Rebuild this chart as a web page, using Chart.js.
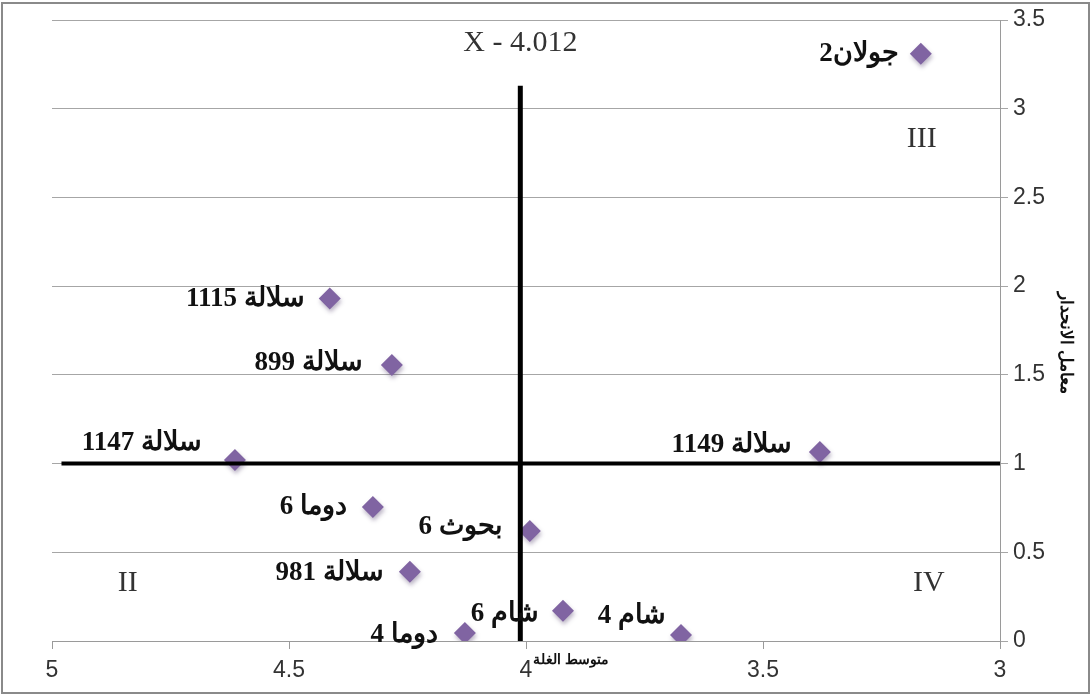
<!DOCTYPE html>
<html>
<head>
<meta charset="utf-8">
<script src="https://cdn.jsdelivr.net/npm/chart.js@4.4.0/dist/chart.umd.min.js"></script>
<style>
  body { margin: 0; background: #fff; }
  #wrap { width: 1091px; height: 695px; }
</style>
</head>
<body>
<div id="wrap"><canvas id="quadChart" width="1091" height="695"></canvas></div>
<script>
// genotypes: mean yield (x) and regression coefficient (y)
const names = ['جولان2', 'سلالة 1115', 'سلالة 899', 'سلالة 1147', 'سلالة 1149', 'دوما 6', 'بحوث 6', 'سلالة 981', 'شام 6', 'دوما 4', 'شام 4'];
const meanYield = [3.167, 4.414, 4.283, 4.614, 3.380, 4.323, 3.992, 4.245, 3.922, 4.129, 3.673];
const regCoef = [3.31, 1.93, 1.555, 1.02, 1.065, 0.755, 0.62, 0.39, 0.17, 0.045, 0.034];

// reference lines
const grandMean = 4.012;
const vLineY = [0, 3.13];
const hLineX = [4.98, 3.0];
const hLineY = 1;

const xTicks = [5, 4.5, 4, 3.5, 3];
const yTicks = [0, 0.5, 1, 1.5, 2, 2.5, 3, 3.5];

// label nudges (px) next to each diamond
const labelGap = [22, 25, 29, 33, 28, 26, 27, 26, 24, 27, 15];
const labelDy = [0, 0, -2, -17, -7, 0, -4, 1, 3, 2, -19];

const points = meanYield.map((x, i) => ({ x: x, y: regCoef[i] }));

const extras = {
    id: 'extras',
    beforeDatasetDraw(chart, args) {
        if (args.index === 2) {
            chart.ctx.save();
            chart.ctx.shadowColor = 'rgba(60,40,90,0.35)';
            chart.ctx.shadowBlur = 4;
            chart.ctx.shadowOffsetX = 1;
            chart.ctx.shadowOffsetY = 3;
        }
    },
    afterDatasetDraw(chart, args) {
        if (args.index === 2) chart.ctx.restore();
    },
    afterDraw(chart) {
        const ctx = chart.ctx;
        const xs = chart.scales.x, ys = chart.scales.y;
        const area = chart.chartArea;
        ctx.save();

        // point labels
        ctx.direction = 'rtl';
        ctx.textAlign = 'right';
        ctx.textBaseline = 'middle';
        ctx.fillStyle = '#111';
        ctx.font = 'bold 27px "Liberation Serif", "DejaVu Serif", serif';
        names.forEach((n, i) => {
            const px = xs.getPixelForValue(meanYield[i]);
            const py = ys.getPixelForValue(regCoef[i]);
            ctx.fillText(n, px - labelGap[i], py + labelDy[i]);
        });

        // quadrant numbers and mean text
        ctx.direction = 'ltr';
        ctx.textAlign = 'center';
        ctx.fillStyle = '#333';
        ctx.font = '30px "Liberation Serif", serif';
        ctx.fillText('III', xs.getPixelForValue(3.165), ys.getPixelForValue(2.83));
        ctx.fillText('II', xs.getPixelForValue(4.84), ys.getPixelForValue(0.325));
        ctx.fillText('IV', xs.getPixelForValue(3.15), ys.getPixelForValue(0.325));
        ctx.fillText('X - 4.012', xs.getPixelForValue(grandMean), ys.getPixelForValue(3.37));

        // axis titles
        ctx.fillStyle = '#111';
        ctx.font = 'bold 14px "Liberation Serif", serif';
        ctx.direction = 'rtl';
        ctx.fillText('متوسط الغلة', xs.getPixelForValue(3.905), area.bottom + 19);
        ctx.font = 'bold 17px "Liberation Serif", serif';
        ctx.save();
        ctx.translate(area.right + 65, ys.getPixelForValue(1.68));
        ctx.rotate(Math.PI / 2);
        ctx.fillText('معامل الانحدار', 0, 0);
        ctx.restore();

        // outer frame
        ctx.strokeStyle = '#8a8a8a';
        ctx.lineWidth = 2;
        ctx.strokeRect(2, 3, 1087, 690);
        ctx.restore();
    }
};

new Chart(document.getElementById('quadChart'), {
    type: 'scatter',
    data: {
        datasets: [
            {
                type: 'line',
                data: vLineY.map(y => ({ x: grandMean, y: y })),
                borderColor: '#000',
                borderWidth: 5,
                pointRadius: 0
            },
            {
                type: 'line',
                data: hLineX.map(x => ({ x: x, y: hLineY })),
                borderColor: '#000',
                borderWidth: 4,
                pointRadius: 0
            },
            {
                data: points,
                pointStyle: 'rectRot',
                pointRadius: 11,
                pointHoverRadius: 11,
                backgroundColor: '#8064a2',
                borderColor: '#8064a2',
                borderWidth: 0
            }
        ]
    },
    options: {
        responsive: false,
        animation: false,
        layout: { padding: { left: 52, top: 20, right: 0, bottom: 0 } },
        plugins: { legend: { display: false }, tooltip: { enabled: false } },
        scales: {
            x: {
                type: 'linear',
                reverse: true,
                min: 3,
                max: 5,
                afterBuildTicks: s => { s.ticks = xTicks.map(v => ({ value: v })); },
                afterFit: s => { s.height = 54; },
                grid: { drawOnChartArea: false, color: '#9a9a9a', tickLength: 8 },
                border: { color: '#9a9a9a' },
                ticks: {
                    color: '#333',
                    font: { family: '"Liberation Sans", Arial, sans-serif', size: 23 },
                    padding: 8,
                    maxRotation: 0,
                    callback: v => String(v)
                }
            },
            y: {
                position: 'right',
                min: 0,
                max: 3.5,
                afterBuildTicks: s => { s.ticks = yTicks.map(v => ({ value: v })); },
                afterFit: s => { s.width = 91; },
                grid: { color: '#a6a6a6', tickLength: 8 },
                border: { color: '#9a9a9a' },
                ticks: {
                    color: '#333',
                    font: { family: '"Liberation Sans", Arial, sans-serif', size: 23 },
                    padding: 5,
                    callback: v => String(v)
                }
            }
        }
    },
    plugins: [extras]
});
</script>
</body>
</html>
